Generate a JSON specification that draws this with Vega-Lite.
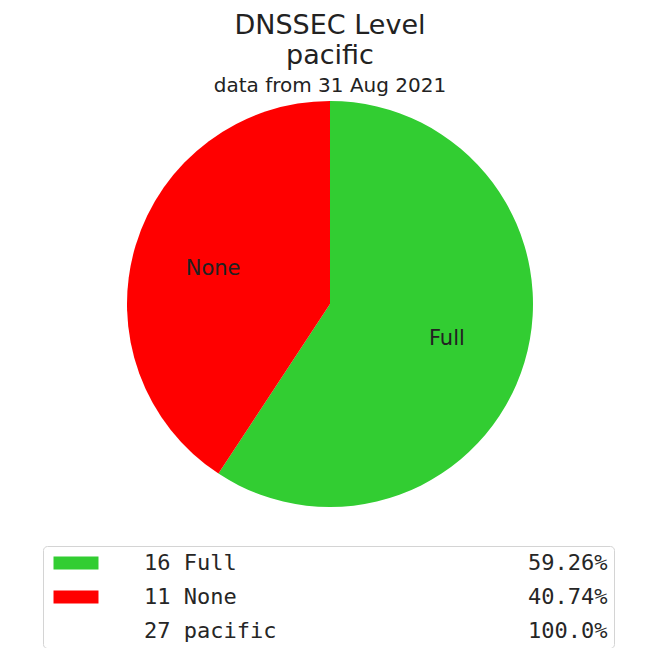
{
  "$schema": "https://vega.github.io/schema/vega-lite/v6.json",
  "padding": {"left": 11, "top": 12, "right": 0, "bottom": 0},
  "background": "white",
  "title": {
    "text": ["DNSSEC Level", "pacific"],
    "subtitle": "data from 31 Aug 2021",
    "font": "DejaVu Sans",
    "fontSize": 27,
    "fontWeight": "normal",
    "lineHeight": 30,
    "color": "#222222",
    "subtitleFont": "DejaVu Sans",
    "subtitleFontSize": 20,
    "subtitleColor": "#222222",
    "subtitlePadding": 6,
    "anchor": "middle",
    "offset": 4
  },
  "width": 638,
  "height": 406,
  "data": {
    "values": [
      {"level": "Full", "count": 16},
      {"level": "None", "count": 11}
    ]
  },
  "encoding": {
    "theta": {"field": "count", "type": "quantitative", "stack": true},
    "color": {
      "field": "level",
      "type": "nominal",
      "scale": {
        "domain": ["Full", "None", "pacific"],
        "range": ["#32cd32", "#ff0000", "rgba(0,0,0,0)"]
      },
      "legend": {
        "orient": "none",
        "legendX": 32,
        "legendY": 445,
        "direction": "vertical",
        "title": null,
        "padding": 6,
        "strokeColor": "#d4d4d4",
        "fillColor": "white",
        "cornerRadius": 4,
        "symbolType": "M-3.46,-1H3.46V1H-3.46Z",
        "symbolSize": 169,
        "symbolStrokeWidth": 0,
        "symbolOpacity": 1,
        "symbolOffset": 16,
        "labelOffset": 57,
        "labelFont": "DejaVu Sans Mono",
        "labelFontSize": 22,
        "labelColor": "#262626",
        "labelLimit": 0,
        "rowPadding": 12,
        "labelExpr": "pad({'Full': '16 Full', 'None': '11 None', 'pacific': '27 pacific'}[datum.label], 29, '\u00a0') + pad({'Full': '59.26%', 'None': '40.74%', 'pacific': '100.0%'}[datum.label], 6, '\u00a0', 'left')"
      }
    }
  },
  "layer": [
    {"mark": {"type": "arc", "outerRadius": 203}},
    {
      "mark": {
        "type": "text",
        "radius": 122,
        "font": "DejaVu Sans",
        "fontSize": 21,
        "color": "#222222"
      },
      "encoding": {
        "text": {"field": "level", "type": "nominal"},
        "color": {"value": "#222222"}
      }
    }
  ],
  "view": {"stroke": null}
}
